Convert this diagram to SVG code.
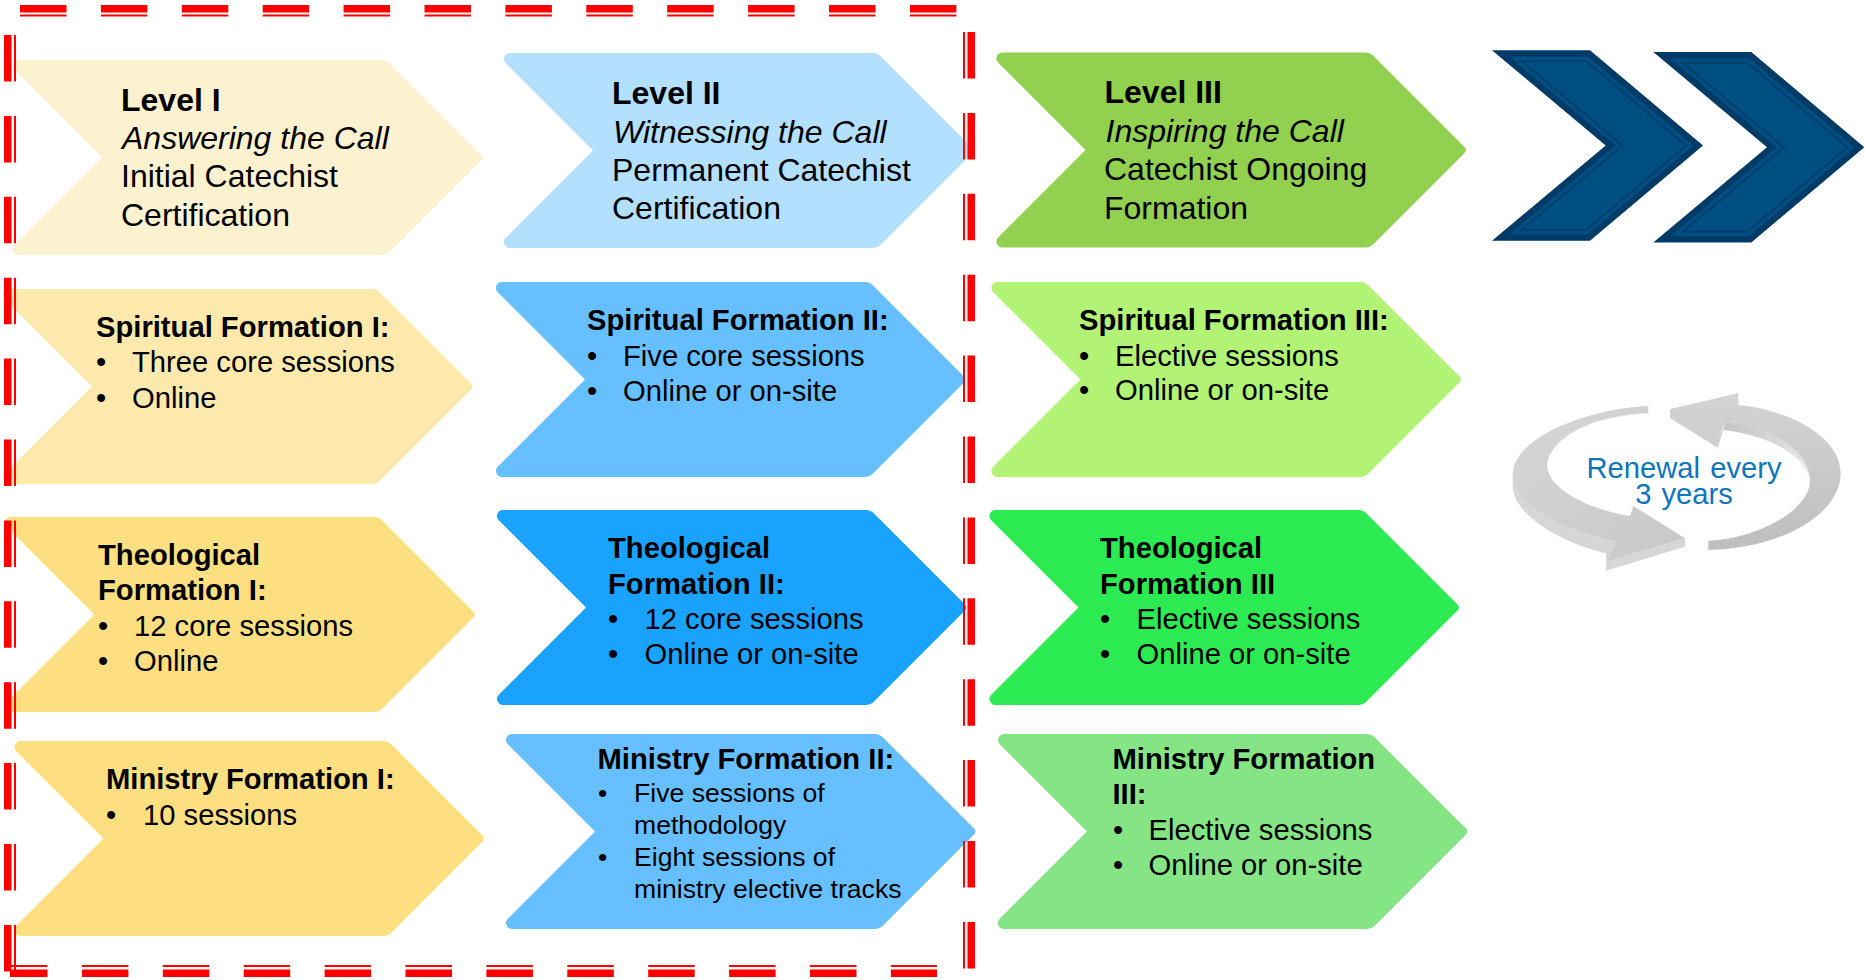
<svg xmlns="http://www.w3.org/2000/svg" width="1865" height="980" viewBox="0 0 1865 980">
<style>
text{font-family:"Liberation Sans",Arial,sans-serif;fill:#000}
.h{font-size:32px}.b{font-weight:bold}.i{font-style:italic}
.m{font-size:29.2px}.s{font-size:26.6px}
.thick{stroke:#f00;stroke-width:7.5;stroke-dasharray:46.5 34.4;fill:none}
.thin{stroke:#f00;stroke-width:2;stroke-dasharray:46.5 34.4;fill:none}
.r{font-size:29.2px;fill:#0F75BD;text-anchor:middle;word-spacing:2px}
</style>
<defs>
<path id="chev" d="M6.5,0H370Q374,0 377,3L468.5,94.5Q471.5,97.5 468.5,100.5L377,192Q374,195 370,195H6.5A6,6 0 0 1 2.25,184.75L89.5,97.5L2.25,10.25A6,6 0 0 1 6.5,0Z"/>
<g id="navy">
<polygon points="0,0 98,0 211,95.2 98,190.4 0,190.4 113.7,95.2" fill="#003A66"/>
<polygon points="17.3,6.3 95.7,6.3 201.2,95.2 95.7,184.1 17.3,184.1 123.5,95.2" fill="#004F82"/>
<polygon points="29.5,10.8 94.2,10.8 194.2,95.2 94.2,179.6 29.5,179.6 130.5,95.2" fill="none" stroke="#003F6E" stroke-width="2"/>
</g>
<linearGradient id="gFace" x1="0" y1="0" x2="1" y2="1"><stop offset="0" stop-color="#D6D6D6"/><stop offset="1" stop-color="#C8C8C8"/></linearGradient>
<linearGradient id="gFaceR" x1="0" y1="0" x2="0" y2="1"><stop offset="0" stop-color="#D4D4D4"/><stop offset="1" stop-color="#BEBEBE"/></linearGradient>
<linearGradient id="gWall" x1="0" y1="0" x2="1" y2="1"><stop offset="0" stop-color="#C4C4C4"/><stop offset="1" stop-color="#EDEDED"/></linearGradient>
</defs>

<g id="level-1"><use href="#chev" x="12.5" y="60" fill="#FDF2D0"/>
<text class="h"><tspan class="b" x="121" y="111">Level I</tspan><tspan class="i" x="122" y="149">Answering the Call</tspan><tspan x="121" y="187">Initial Catechist</tspan><tspan x="121" y="226">Certification</tspan></text></g>
<g id="spiritual-1"><use href="#chev" x="2.5" y="289" fill="#FDE9AC"/>
<text class="m"><tspan class="b" x="96" y="337">Spiritual Formation I:</tspan><tspan x="96" y="372">•</tspan><tspan x="132" y="372">Three core sessions</tspan><tspan x="96" y="408">•</tspan><tspan x="132" y="408">Online</tspan></text></g>
<g id="theological-1"><use href="#chev" x="4.8" y="517" fill="#FBDF80"/>
<text class="m"><tspan class="b" x="98" y="565">Theological</tspan><tspan class="b" x="98" y="600">Formation I:</tspan><tspan x="98" y="636">•</tspan><tspan x="134" y="636">12 core sessions</tspan><tspan x="98" y="671">•</tspan><tspan x="134" y="671">Online</tspan></text></g>
<g id="ministry-1"><use href="#chev" x="14" y="741" fill="#FBDF80"/>
<text class="m"><tspan class="b" x="106" y="789">Ministry Formation I:</tspan><tspan x="106" y="825">•</tspan><tspan x="143" y="825">10 sessions</tspan></text></g>

<g id="level-2"><use href="#chev" x="503.5" y="53" fill="#B4E0FF"/>
<text class="h"><tspan class="b" x="612" y="104">Level II</tspan><tspan class="i" x="613" y="142.500">Witnessing the Call</tspan><tspan x="612" y="181">Permanent Catechist</tspan><tspan x="612" y="219">Certification</tspan></text></g>
<g id="spiritual-2"><use href="#chev" x="495.5" y="282" fill="#66BFFF"/>
<text class="m"><tspan class="b" x="587" y="330">Spiritual Formation II:</tspan><tspan x="587" y="366">•</tspan><tspan x="623" y="366">Five core sessions</tspan><tspan x="587" y="401">•</tspan><tspan x="623" y="401">Online or on-site</tspan></text></g>
<g id="theological-2"><use href="#chev" x="496.5" y="510" fill="#19A3FF"/>
<text class="m"><tspan class="b" x="608" y="558">Theological</tspan><tspan class="b" x="608" y="594">Formation II:</tspan><tspan x="608" y="629">•</tspan><tspan x="644.500" y="629">12 core sessions</tspan><tspan x="608" y="664">•</tspan><tspan x="644.500" y="664">Online or on-site</tspan></text></g>
<g id="ministry-2"><use href="#chev" x="505.5" y="734" fill="#66BFFF"/>
<text class="m b"><tspan x="597.500" y="769">Ministry Formation II:</tspan></text>
<text class="s"><tspan x="598" y="802">•</tspan><tspan x="634" y="802">Five sessions of</tspan><tspan x="634" y="834">methodology</tspan><tspan x="598" y="866">•</tspan><tspan x="634" y="866">Eight sessions of</tspan><tspan x="634" y="898">ministry elective tracks</tspan></text></g>

<g id="level-3"><use href="#chev" x="996" y="52.500" fill="#92D050"/>
<text class="h"><tspan class="b" x="1104.500" y="103">Level III</tspan><tspan class="i" x="1105.500" y="141.500">Inspiring the Call</tspan><tspan x="1104" y="180">Catechist Ongoing</tspan><tspan x="1104" y="219">Formation</tspan></text></g>
<g id="spiritual-3"><use href="#chev" x="991" y="282" fill="#B2F274"/>
<text class="m"><tspan class="b" x="1079" y="330">Spiritual Formation III:</tspan><tspan x="1079" y="366">•</tspan><tspan x="1115" y="366">Elective sessions</tspan><tspan x="1079" y="400">•</tspan><tspan x="1115" y="400">Online or on-site</tspan></text></g>
<g id="theological-3"><use href="#chev" x="989" y="510" fill="#2CEB52"/>
<text class="m"><tspan class="b" x="1100" y="558">Theological</tspan><tspan class="b" x="1100" y="594">Formation III</tspan><tspan x="1100" y="629">•</tspan><tspan x="1136.500" y="629">Elective sessions</tspan><tspan x="1100" y="664">•</tspan><tspan x="1136.500" y="664">Online or on-site</tspan></text></g>
<g id="ministry-3"><use href="#chev" x="997.500" y="734" fill="#85E585"/>
<text class="m"><tspan class="b" x="1112.500" y="769">Ministry Formation</tspan><tspan class="b" x="1112.500" y="804">III:</tspan><tspan x="1113" y="840">•</tspan><tspan x="1148.500" y="840">Elective sessions</tspan><tspan x="1113" y="875">•</tspan><tspan x="1148.500" y="875">Online or on-site</tspan></text></g>

<g id="next-chevrons"><use href="#navy" x="1492" y="50.300"/><use href="#navy" x="1653.300" y="52"/></g>

<g id="renewal">
<g transform="translate(1490 380) scale(0.33333)">
<path d="M68,285L68,320C72,400 200,485 348,520L348,572L585,500L585,475L350,545L378,485C200,450 68,370 68,285Z" fill="#D6D6D6"/>
<path d="M475,78C300,85 68,170 68,285C68,370 200,450 378,485L350,545L585,475L430,378L420,408C280,385 175,320 172,260C172,180 300,105 475,100Z" fill="url(#gFace)"/>
<path d="M475,100C340,104 215,150 185,205C230,140 340,112 475,100Z" fill="#E4E4E4"/>
<path d="M745,40L540,88L540,115L683,203L705,135L683,175Z" fill="#D0D0D0"/>
<path d="M745,40L540,88L683,175L705,125C860,140 958,225 960,300C962,390 800,478 655,482L655,510C880,505 1052,400 1052,280C1052,170 900,90 745,75Z" fill="url(#gFaceR)"/>
<path d="M705,125C860,140 958,225 960,300C945,235 860,170 700,150Z" fill="url(#gWall)"/>
</g>
<text class="r" x="1684" y="478">Renewal every</text>
<text class="r" x="1684" y="504">3 years</text>
</g>

<g id="frame">
<line class="thick" x1="20" y1="8.750" x2="957" y2="8.750"/><line class="thin" x1="20" y1="15.500" x2="957" y2="15.500"/>
<line class="thin" x1="10" y1="966" x2="937" y2="966" stroke-dashoffset="9"/><line class="thick" x1="10" y1="973.250" x2="937" y2="973.250" stroke-dashoffset="9"/>
<line class="thick" x1="7.750" y1="35" x2="7.750" y2="972"/><line class="thin" x1="15" y1="35" x2="15" y2="972"/>
<line class="thin" x1="964" y1="32" x2="964" y2="969"/><line class="thick" x1="971.250" y1="32" x2="971.250" y2="969"/>
</g>
</svg>
